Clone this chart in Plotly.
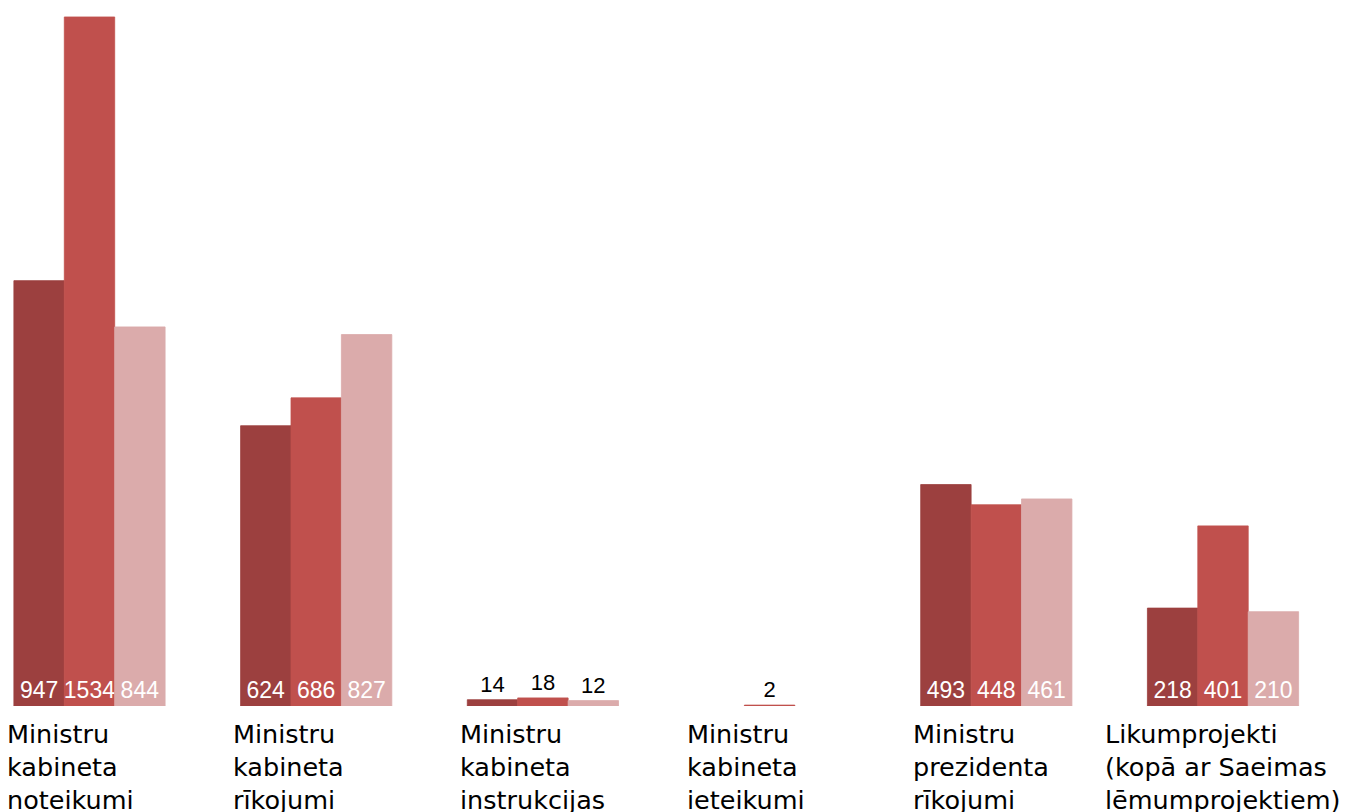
import plotly.graph_objects as go

# Document types (category labels, shown as multi-line text under the bars)
categories = [
    "Ministru<br>kabineta<br>noteikumi",
    "Ministru<br>kabineta<br>rīkojumi",
    "Ministru<br>kabineta<br>instrukcijas",
    "Ministru<br>kabineta<br>ieteikumi",
    "Ministru<br>prezidenta<br>rīkojumi",
    "Likumprojekti<br>(kopā ar Saeimas<br>lēmumprojektiem)",
]
cat_keys = ["noteikumi", "rikojumi", "instrukcijas", "ieteikumi", "prez_rikojumi", "likumprojekti"]

# Three series (periods)
series_a = [947, 624, 14, None, 493, 218]
series_b = [1534, 686, 18, 2, 448, 401]
series_c = [844, 827, 12, None, 461, 210]

series = [
    ("A", series_a, "#9c403f"),
    ("B", series_b, "#c0504d"),
    ("C", series_c, "#dbabab"),
]

fig = go.Figure()

for name, vals, color in series:
    # big bars get the number inside at the base, tiny ones get it on top
    pos = ["inside" if (v is not None and v > 100) else "outside" for v in vals]
    fig.add_trace(go.Bar(
        x=cat_keys,
        y=vals,
        name=name,
        marker=dict(color=color, line=dict(width=0.8, color=color)),
        text=[str(v) if v is not None else "" for v in vals],
        textposition=pos,
        insidetextanchor="start",
        constraintext="none",
        textangle=0,
        insidetextfont=dict(color="white", size=23, family="Liberation Sans, Arial"),
        outsidetextfont=dict(color="black", size=22, family="Liberation Sans, Arial"),
        cliponaxis=False,
        showlegend=False,
    ))

# category labels below the bars, left aligned
label_shift = [-85, -85, -85, -85, -85, -120]
for key, lab, xs in zip(cat_keys, categories, label_shift):
    fig.add_annotation(
        x=key, y=0, xref="x", yref="paper",
        text=lab, showarrow=False,
        xanchor="left", yanchor="top", align="left",
        xshift=xs, yshift=-11,
        font=dict(family="DejaVu Sans, Verdana", size=25.5, color="black"),
    )

fig.update_layout(
    width=1355,
    height=812,
    margin=dict(l=0, r=0, t=0, b=114),
    barmode="group",
    bargap=0.333,
    bargroupgap=0,
    plot_bgcolor="white",
    paper_bgcolor="white",
    xaxis=dict(
        range=[-0.3595, 5.6175],
        showticklabels=False,
        showgrid=False,
        zeroline=False,
        showline=False,
        ticks="",
    ),
    yaxis=dict(
        range=[0, 1554],
        showticklabels=False,
        showgrid=False,
        zeroline=False,
        showline=False,
        ticks="",
    ),
)

fig.write_html("out.html")
